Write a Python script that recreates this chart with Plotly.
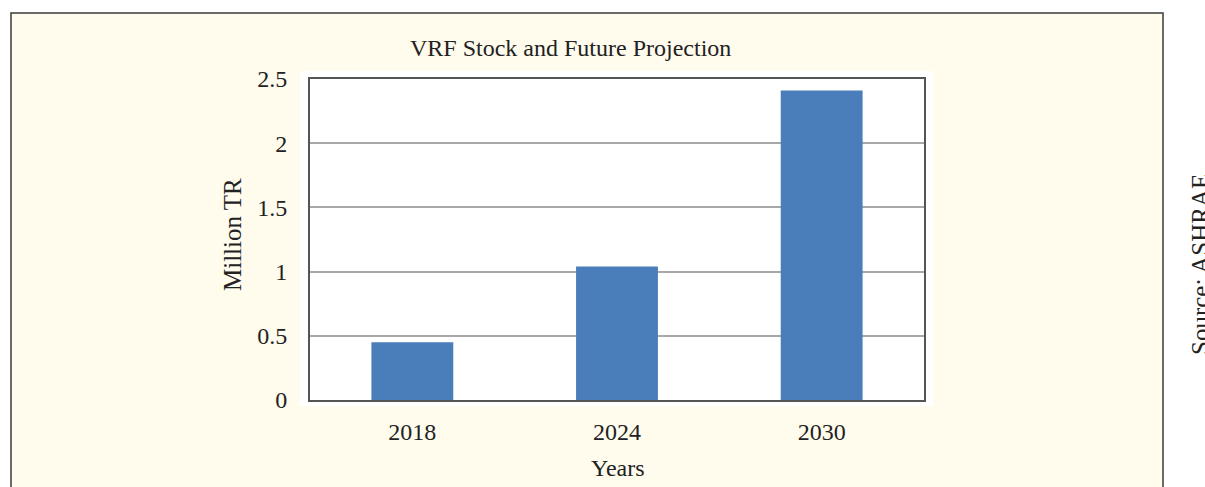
import plotly.graph_objects as go

years = ["2018", "2024", "2030"]
values = [0.45, 1.04, 2.41]
y_ticks = [0, 0.5, 1, 1.5, 2, 2.5]
y_tick_labels = ["0", "0.5", "1", "1.5", "2", "2.5"]

W, H = 1205, 487
L, R, T, B = 310, 924, 79, 400

def px(x):
    return (x - L) / (R - L)

def py(y):
    return (B - y) / (B - T)

FONT = "Liberation Serif, Times New Roman, serif"
TXT = "#222222"
FS = 24

fig = go.Figure(go.Bar(x=years, y=values, marker=dict(color="#4A7EBB", line=dict(width=0)),
                       width=0.4))

fig.update_layout(
    width=W, height=H,
    margin=dict(l=L, r=W - R, t=T, b=H - B, pad=0),
    paper_bgcolor="white",
    plot_bgcolor="rgba(0,0,0,0)",
    showlegend=False,
    font=dict(family=FONT, size=FS, color=TXT),
    shapes=[
        dict(type="rect", xref="paper", yref="paper", layer="below",
             x0=px(11), x1=px(1163), y0=py(520), y1=py(13),
             fillcolor="#FFFCEE", line=dict(color="#3a3a3a", width=1.5)),
        dict(type="rect", xref="paper", yref="paper", layer="below",
             x0=px(300), x1=px(933), y0=py(406), y1=py(71),
             fillcolor="white", line=dict(width=0)),
    ],
    annotations=[
        dict(text="VRF Stock and Future Projection", xref="paper", yref="paper",
             x=px(570), y=py(48), xanchor="center", yanchor="middle", showarrow=False,
             font=dict(family=FONT, size=FS, color=TXT)),
        dict(text="Million TR", xref="paper", yref="paper", textangle=-90,
             x=px(232), y=py(235), xanchor="center", yanchor="middle", showarrow=False,
             font=dict(family=FONT, size=25, color=TXT)),
        dict(text="Years", xref="paper", yref="paper",
             x=px(618), y=py(468), xanchor="center", yanchor="middle", showarrow=False,
             font=dict(family=FONT, size=FS, color=TXT)),
        dict(text="Source: ASHRAE", xref="paper", yref="paper", textangle=-90,
             x=px(1200), y=py(265), xanchor="center", yanchor="middle", showarrow=False,
             font=dict(family=FONT, size=25, color=TXT)),
    ],
)

fig.update_xaxes(
    showline=True, mirror=True, linecolor="#555555", linewidth=2,
    showgrid=False, ticks="", ticklabelstandoff=9,
    tickfont=dict(family=FONT, size=FS, color=TXT),
)
fig.update_yaxes(
    range=[0, 2.5], tickvals=y_ticks, ticktext=y_tick_labels,
    showline=True, mirror=True, linecolor="#555555", linewidth=2,
    showgrid=True, gridcolor="#A8A8A8", gridwidth=1.5, zeroline=False,
    ticks="", ticklabelstandoff=16,
    tickfont=dict(family=FONT, size=FS, color=TXT),
)

fig.write_html("out.html", config={"displayModeBar": False})

with open("out.html", encoding="utf-8") as f:
    html = f.read()
html = html.replace("<body>", '<body style="margin:0;padding:0;overflow:hidden">', 1)
with open("out.html", "w", encoding="utf-8") as f:
    f.write(html)
